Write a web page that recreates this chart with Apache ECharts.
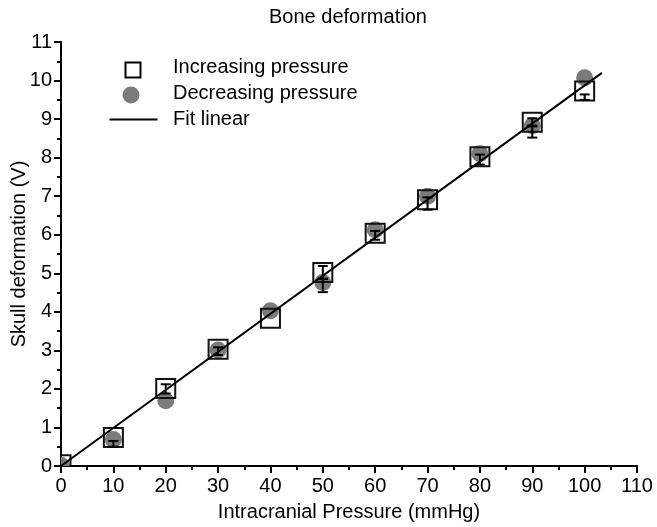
<!DOCTYPE html>
<html>
<head>
<meta charset="utf-8">
<script src="https://cdn.jsdelivr.net/npm/echarts@6/dist/echarts.min.js"></script>
<style>
html,body{margin:0;padding:0;background:#fff;}
#chart{width:657px;height:527px;}
</style>
</head>
<body>
<div id="chart"></div>
<script>
// ---- data ----
const titleText = 'Bone deformation';
const xName = 'Intracranial Pressure (mmHg)';
const yName = 'Skull deformation (V)';
const seriesNames = ['Increasing pressure', 'Decreasing pressure', 'Fit linear'];

const pressure = [0, 10, 20, 30, 40, 50, 60, 70, 80, 90, 100];
const increasing = [0.03, 0.74, 2.01, 3.03, 3.83, 5.02, 6.04, 6.91, 8.02, 8.92, 9.73];
const decreasing = [0.02, 0.69, 1.69, 3.01, 4.03, 4.76, 6.13, 7.00, 8.10, 8.83, 10.07];

// visible error bars (low / high), null = none visible
const incErrLow  = [null, null, 1.88, 2.88, null, 4.85, 5.87, 6.65, 7.82, 8.81, 9.50];
const incErrHigh = [null, null, 2.12, 3.08, null, 5.19, 6.10, 6.97, 8.08, 9.02, 9.64];
const decErrLow  = [null, 0.50, null, null, null, 4.51, null, null, null, 8.52, null];
const decErrHigh = [null, 0.65, null, null, null, 4.86, null, null, null, 8.83, null];

// linear fit end points
const fitX = [0, 103.3];
const fitY = [0, 10.2];

// ---- build options ----
const FONT = 'Liberation Sans, Arial, Helvetica, sans-serif';
const incData = pressure.map((x, i) => [x, increasing[i]]);
const decData = pressure.map((x, i) => [x, decreasing[i]]);
const errData = [];
pressure.forEach((x, i) => {
  if (incErrLow[i] != null) errData.push([x, incErrLow[i], incErrHigh[i]]);
  if (decErrLow[i] != null) errData.push([x, decErrLow[i], decErrHigh[i]]);
});
const fitData = fitX.map((x, i) => [x, fitY[i]]);

const chart = echarts.init(document.getElementById('chart'), null, {renderer: 'canvas'});
chart.setOption({
  animation: false,
  backgroundColor: '#fff',
  textStyle: {fontFamily: FONT, color: '#000'},
  title: {
    text: titleText,
    left: 269, top: 7, padding: 0,
    textStyle: {fontFamily: FONT, fontSize: 20, fontWeight: 'normal', color: '#000'}
  },
  grid: {left: 61, right: 20, top: 42, bottom: 61, containLabel: false, outerBoundsMode: 'none'},
  xAxis: {
    type: 'value', min: 0, max: 110, interval: 10,
    name: xName, nameLocation: 'middle', nameGap: 36, nameMoveOverlap: false,
    nameTextStyle: {fontFamily: FONT, fontSize: 20, color: '#000'},
    axisLine: {show: true, lineStyle: {color: '#000', width: 2}},
    axisTick: {show: true, inside: false, length: 7, lineStyle: {color: '#000', width: 2}},
    minorTick: {show: true, splitNumber: 2, length: 4, lineStyle: {color: '#000', width: 2}},
    axisLabel: {fontFamily: FONT, fontSize: 20, color: '#000', margin: 10},
    splitLine: {show: false}
  },
  yAxis: {
    type: 'value', min: 0, max: 11, interval: 1,
    name: yName, nameLocation: 'middle', nameGap: 32, nameRotate: 90, nameMoveOverlap: false,
    nameTextStyle: {fontFamily: FONT, fontSize: 20, color: '#000'},
    axisLine: {show: true, lineStyle: {color: '#000', width: 2}},
    axisTick: {show: true, inside: false, length: 7, lineStyle: {color: '#000', width: 2}},
    minorTick: {show: true, splitNumber: 2, length: 4, lineStyle: {color: '#000', width: 2}},
    axisLabel: {fontFamily: FONT, fontSize: 20, color: '#000', margin: 9},
    splitLine: {show: false}
  },
  series: [
    {
      name: seriesNames[1], type: 'custom', clip: true, z: 2,
      data: decData,
      renderItem: function (params, api) {
        const p = api.coord([api.value(0), api.value(1)]);
        return {type: 'circle', shape: {cx: p[0], cy: p[1], r: 8.5}, style: {fill: '#7b7b7b'}};
      }
    },
    {
      name: seriesNames[0], type: 'custom', clip: true, z: 3,
      data: incData,
      renderItem: function (params, api) {
        const p = api.coord([api.value(0), api.value(1)]);
        const s = 19;
        return {type: 'rect', shape: {x: p[0] - s / 2, y: p[1] - s / 2, width: s, height: s},
          style: {fill: 'none', stroke: '#111', lineWidth: 2}};
      }
    },
    {
      name: 'error', type: 'custom', clip: true, z: 4,
      data: errData,
      renderItem: function (params, api) {
        const lo = api.coord([api.value(0), api.value(1)]);
        const hi = api.coord([api.value(0), api.value(2)]);
        const w = 5;
        const st = {stroke: '#000', lineWidth: 2};
        return {type: 'group', children: [
          {type: 'line', shape: {x1: lo[0], y1: lo[1], x2: hi[0], y2: hi[1]}, style: st},
          {type: 'line', shape: {x1: lo[0] - w, y1: lo[1], x2: lo[0] + w, y2: lo[1]}, style: st},
          {type: 'line', shape: {x1: hi[0] - w, y1: hi[1], x2: hi[0] + w, y2: hi[1]}, style: st}
        ]};
      }
    },
    {
      name: seriesNames[2], type: 'line', z: 5,
      data: fitData, showSymbol: false, symbol: 'none',
      lineStyle: {color: '#000', width: 2}
    }
  ],
  graphic: [
    {type: 'rect', left: 123, top: 60, shape: {width: 15, height: 15},
      style: {fill: 'none', stroke: '#000', lineWidth: 2}},
    {type: 'text', left: 173, top: 57, style: {text: seriesNames[0], font: '20px ' + FONT, fill: '#000'}},
    {type: 'circle', left: 122.5, top: 86.5, shape: {r: 8.5}, style: {fill: '#7b7b7b'}},
    {type: 'text', left: 173, top: 83, style: {text: seriesNames[1], font: '20px ' + FONT, fill: '#000'}},
    {type: 'line', left: 107, top: 117, shape: {x1: 0, y1: 0, x2: 48, y2: 0}, style: {stroke: '#000', lineWidth: 2}},
    {type: 'text', left: 173, top: 109, style: {text: seriesNames[2], font: '20px ' + FONT, fill: '#000'}}
  ]
});
</script>
</body>
</html>
